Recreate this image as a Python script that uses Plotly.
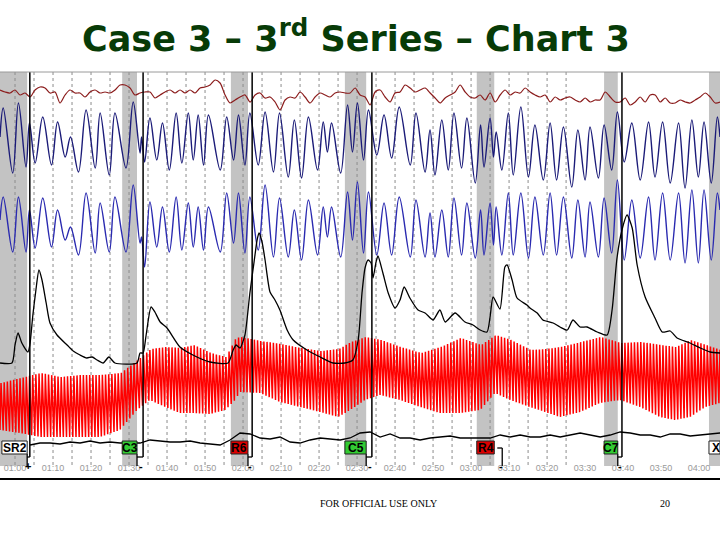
import numpy as np
import plotly.graph_objects as go

# ---------------- data ----------------
t_start, t_end = 56.05, 245.5          # seconds shown

tick_times = list(range(60, 241, 10))
tick_labels = ["01:00", "01:10", "01:20", "01:30", "01:40", "01:50", "02:00",
               "02:10", "02:20", "02:30", "02:40", "02:50", "03:00", "03:10",
               "03:20", "03:30", "03:40", "03:50", "04:00"]
grid_times = list(range(60, 206, 5))

questions = ["SR2", "C3", "R6", "C5", "R4", "C7", "XX"]
q_on = [56.05, 88.2, 116.8, 146.8, 181.5, 215.0, 242.6]
q_off = [63.2, 92.1, 121.3, 152.4, 186.1, 218.6, 245.5]
q_fill = ["#ffffff", "#33cc33", "#dd0000", "#33cc33", "#dd0000", "#33cc33", "#ffffff"]
ans_t = [63.9, 93.7, 122.4, 153.9, 188.2, 219.7]
ans_sign = ["+", "-", "-", "-", "-", "-"]
ans_full = [True, True, True, True, False, True]

# pneumo (top, dark red), regular samples
pneumo_t0, pneumo_dt = 56.05, 1.316
pneumo = [20, 22, 23, 20, 25, 23, 27, 20, 17, 18, 23, 22, 33, 25, 20, 23, 23, 27, 22, 20,
          23, 22, 23, 20, 15, 15, 18, 25, 23, 22, 22, 28, 25, 22, 20, 23, 20, 23, 20, 23,
          18, 17, 15, 10, 13, 25, 33, 30,
          27, 25, 32, 25, 23, 28, 27, 32, 40, 30, 27, 28, 22, 27, 33, 27, 23, 25, 27, 23,
          22, 23, 23, 18, 25, 27, 35, 22, 20, 27, 32, 23, 22, 15, 18, 22, 20, 18, 23, 28,
          33, 28, 25, 22, 15, 22, 27, 28,
          25, 30, 23, 32, 25, 20, 25, 22, 23, 18, 22, 25, 27, 25, 32, 27, 30, 28, 27, 30,
          32, 28, 32, 30, 30, 22, 27, 32, 32, 28, 35, 32, 27, 32, 25, 25, 32, 28, 33, 33,
          30, 32, 33, 30, 27, 23, 27, 33, 32]

# respiration extrema (thoracic + abdominal share timing)
resp_t = [56.05, 56.9, 59.4, 60.9, 62.9, 63.8, 65.3, 67.3, 69.6, 71.2, 73.2, 74.6, 76.7, 78.7,
          81.1, 82.4, 84.8, 86.3, 89.2, 91.1, 92.9, 93.3, 94.1, 95.5, 97.3, 98.8, 100.6, 102.4,
          103.9, 105.6, 106.9, 108.2, 109.6, 110.9, 114.0, 115.7, 117.5, 118.8,
          120.5, 121.8, 124.0, 125.8, 128.0, 129.6, 131.9, 133.5, 135.4, 137.2, 139.6, 141.1,
          142.2, 143.3, 145.7, 147.5, 148.8, 150.1, 151.7, 153.0, 155.2, 157.1, 159.1, 161.1,
          164.0, 165.5, 167.9, 169.2, 170.5, 172.3, 174.0, 175.5, 177.5, 178.9, 181.1,
          182.5, 183.4, 185.0, 185.9, 186.6, 188.1, 189.8, 191.1, 193.1, 195.1, 196.8, 199.0,
          200.8, 202.5, 204.3, 206.5, 208.1, 210.0, 211.3, 213.5, 215.0, 217.0, 218.5, 220.3,
          222.3, 224.5, 226.7, 228.4, 230.4, 232.4, 234.6, 236.3, 238.1, 239.8, 241.3, 243.2,
          244.8, 245.5]
thoracic = [67, 38, 103, 33, 97, 53, 93, 47, 95, 52, 87, 67, 102, 40, 98, 43, 105, 43, 98, 32,
            83, 67, 92, 48, 90, 53, 100, 43, 93, 43, 90, 45, 95, 45, 100, 47, 90, 45,
            95, 43, 95, 42, 102, 43, 107, 50, 108, 47, 100, 52, 82, 53, 103, 35, 82, 33, 90, 40,
            85, 45, 88, 37, 95, 43, 102, 60, 105, 50, 100, 43, 98, 48, 113,
            55, 97, 48, 87, 62, 100, 43, 105, 37, 107, 55, 110, 53, 110, 57, 117, 60, 110, 57,
            108, 55, 100, 42, 92, 53, 110, 52, 107, 52, 113, 53, 118, 50, 107, 52, 113, 47, 67]
abdominal = [150, 127, 182, 127, 182, 140, 178, 128, 177, 140, 170, 157, 185, 123, 183, 133,
             182, 127, 182, 115, 173, 167, 197, 132, 177, 137, 182, 127, 180, 133, 177, 137,
             180, 137, 182, 123, 173, 123,
             183, 127, 180, 115, 187, 128, 187, 140, 190, 130, 185, 137, 167, 137, 187, 122,
             170, 112, 183, 122, 185, 133, 185, 127, 187, 130, 187, 143, 187, 140, 187, 128,
             185, 133, 188,
             140, 185, 133, 175, 137, 185, 123, 185, 123, 188, 127, 185, 123, 185, 127, 188,
             130, 187, 132, 187, 128, 183, 110, 190, 130, 188, 127, 190, 123, 190, 123, 193,
             120, 193, 120, 190, 123, 140]

# electrodermal (black)
eda_t = [56.05, 59.2, 60.0, 60.8, 61.8, 63.4, 63.9, 64.7, 65.5, 66.3, 67.1, 68.2, 69.2, 71.05,
         73.7, 75.3, 77.1, 78.9, 80.3, 81.6, 83.2, 84.7, 86.3, 92.1, 92.9, 93.7, 94.5, 95.8,
         96.8, 98.2, 100.0, 103.4, 106.8, 111.3, 116.05, 117.4, 118.2, 119.2, 120.5, 121.8,
         122.9, 123.7, 124.2, 125.0, 125.8, 127.1, 128.4, 129.7, 131.6, 133.2, 136.8, 140.3,
         143.7, 146.8, 148.9, 150.3, 151.3, 152.1, 152.9, 153.7, 154.2, 155.0, 155.5, 156.8,
         158.2, 160.0, 161.3, 162.4, 163.9, 166.05, 167.9, 170.0, 171.8, 173.2, 175.8, 178.4,
         180.5, 182.4, 184.2, 185.0, 185.8, 187.6, 188.9, 189.5, 190.8, 192.1, 194.7, 195.5,
         197.4, 198.9, 201.6, 203.4, 205.3, 206.8, 208.7, 210.5, 213.2, 215.8, 217.1, 218.4,
         219.7, 221.05, 222.4, 223.7, 225.8, 228.4, 230.3, 232.4, 234.2, 237.6, 240.3, 242.9,
         245.5]
eda = [293, 293, 275, 263, 273, 282, 275, 245, 220, 200, 210, 233, 253, 265, 275, 281, 285,
       288, 287, 290, 293, 287, 293, 293, 283, 283, 265, 237, 242, 252, 258, 277, 285, 292,
       293, 280, 275, 278, 265, 223, 192, 170, 163, 172, 190, 222, 230, 240, 260, 270, 280,
       287, 293, 293, 290, 270, 223, 198, 190, 193, 208, 192, 186, 203, 223, 238, 230, 217,
       228, 240, 243, 250, 240, 252, 243, 252, 255, 260, 262, 247, 227, 239, 197, 195, 210,
       228, 235, 238, 243, 250, 253, 257, 260, 250, 257, 257, 262, 265, 240, 188, 160, 145,
       158, 195, 227, 248, 262, 261, 268, 273, 278, 282, 283]

# cardio (red): upper / lower envelope of the pulse, and pulse rate
cardio_bpm = 72
card_env_t = [56.05, 61.3, 66.6, 71.8, 77.1, 82.4, 87.6, 92.1, 95.5, 99.5, 103.4, 106.8, 111.3,
              115.3, 117.9, 119.2, 124.5, 129.7, 135.0, 140.3, 145.0, 148.2, 152.1, 156.05,
              161.3, 166.6, 171.8, 177.1, 182.4, 186.3, 190.3, 195.5, 199.5, 203.4, 208.7,
              213.9, 219.2, 224.5, 229.7, 233.7, 237.6, 241.6, 245.5]
card_upper = [313, 308, 303, 307, 305, 305, 303, 290, 279, 277, 278, 275, 283, 287, 268, 267,
              271, 274, 278, 281, 279, 272, 267, 270, 277, 283, 277, 268, 275, 265, 270, 280,
              279, 277, 272, 267, 273, 272, 275, 277, 270, 275, 280]
card_lower = [360, 363, 367, 367, 367, 367, 360, 340, 330, 337, 343, 343, 344, 340, 330, 322,
              323, 332, 337, 342, 347, 340, 330, 325, 330, 337, 343, 343, 340, 323, 330, 337,
              342, 347, 342, 333, 330, 337, 347, 350, 347, 337, 333]

# bottom activity sensor (black), regular samples
bottom_t0, bottom_dt = 63.95, 2.632
bottom = [375, 373, 373, 374, 372, 373, 371, 373, 372, 373, 373, 373, 370, 371, 372, 372, 371,
          373, 374, 375, 370,
          363, 364, 368, 369, 367, 372, 373, 370, 368, 369, 370, 368, 363, 362, 367, 364, 368,
          368, 370, 368, 367, 366, 368, 368,
          368, 368, 365, 367, 365, 367, 367, 365, 367, 365, 363, 365, 367, 365, 362, 363, 365,
          365, 367, 364, 364, 366, 365, 364, 363]

# ---------------- build ----------------
U_TOP, U_BOT = 2, 408          # y-axis (reversed) limits
U_BAND = 396                   # bottom of grey bands / grid
U_BOX0, U_BOX1 = 371, 384      # question label boxes
U_BRK, U_SIGN = 387, 396

fig = go.Figure()

pn_t = [pneumo_t0 + i * pneumo_dt for i in range(len(pneumo))]
fig.add_trace(go.Scatter(x=pn_t, y=pneumo, mode="lines",
                         line=dict(color="#8b1c1c", width=1.2, shape="spline", smoothing=0.8)))
fig.add_trace(go.Scatter(x=resp_t, y=thoracic, mode="lines",
                         line=dict(color="#1b1b78", width=1.4, shape="spline", smoothing=1.0)))
fig.add_trace(go.Scatter(x=resp_t, y=abdominal, mode="lines",
                         line=dict(color="#2a2ab0", width=1.4, shape="spline", smoothing=1.0)))

period = 60.0 / cardio_bpm
beats = np.arange(t_start, t_end + period, period)
up = np.interp(beats, card_env_t, card_upper)
lo = np.interp(beats, card_env_t, card_lower)
cx, cy = [], []
for b, u, l in zip(beats, up, lo):
    cx += [b, b + 0.32 * period, b + 0.58 * period]
    cy += [l, u, u + 0.4 * (l - u)]
fig.add_trace(go.Scatter(x=cx, y=cy, mode="lines", line=dict(color="#ff0000", width=1.5)))

fig.add_trace(go.Scatter(x=eda_t, y=eda, mode="lines",
                         line=dict(color="black", width=1.3, shape="spline", smoothing=0.6)))
bt = [bottom_t0 + i * bottom_dt for i in range(len(bottom))]
fig.add_trace(go.Scatter(x=bt, y=bottom, mode="lines", line=dict(color="black", width=1.3)))

shapes = []
for a, b in zip(q_on, q_off):
    shapes.append(dict(type="rect", xref="x", yref="y", x0=a, x1=b, y0=U_TOP, y1=U_BAND,
                       fillcolor="#c3c3c3", line=dict(width=0), layer="below"))
for g in grid_times:
    shapes.append(dict(type="line", xref="x", yref="y", x0=g, x1=g, y0=U_TOP, y1=U_BAND,
                       line=dict(color="#8c8c8c", width=1, dash="dot"), layer="below"))
for i, a in enumerate(ans_t):
    if ans_full[i]:
        shapes.append(dict(type="line", xref="x", yref="y", x0=a, x1=a, y0=U_TOP, y1=U_BRK,
                           line=dict(color="black", width=1.5)))
        shapes.append(dict(type="line", xref="x", yref="y", x0=q_off[i], x1=a, y0=U_BRK, y1=U_BRK,
                           line=dict(color="black", width=1.3)))
        shapes.append(dict(type="line", xref="x", yref="y", x0=q_off[i], x1=q_off[i],
                           y0=U_BOX1, y1=U_SIGN, line=dict(color="black", width=1.3)))
    else:
        shapes.append(dict(type="line", xref="x", yref="y", x0=a, x1=a, y0=U_BOX0 + 7, y1=U_SIGN,
                           line=dict(color="black", width=1.3)))
        shapes.append(dict(type="line", xref="x", yref="y", x0=a - 1.3, x1=a, y0=U_BOX0 + 7,
                           y1=U_BOX0 + 7, line=dict(color="black", width=1.3)))
for q, a, b, c in zip(questions, q_on, q_off, q_fill):
    x0 = a + 0.5 if q == "SR2" else a
    shapes.append(dict(type="rect", xref="x", yref="y", x0=x0, x1=b, y0=U_BOX0, y1=U_BOX1,
                       fillcolor=c, line=dict(color="#222222", width=1)))
# top frame line
shapes.append(dict(type="line", xref="paper", yref="paper", x0=0, x1=1, y0=1, y1=1,
                   line=dict(color="#9a9a9a", width=1)))

ann = []
for q, a, b in zip(questions, q_on, q_off):
    ax = a + 0.5 if q == "SR2" else a
    ann.append(dict(x=(ax + b) / 2 if q != "XX" else ax + 0.2, y=(U_BOX0 + U_BOX1) / 2,
                    xref="x", yref="y", text="<b>%s</b>" % q, showarrow=False,
                    xanchor="center" if q != "XX" else "left", yanchor="middle",
                    font=dict(family="Liberation Sans, Arial", size=12, color="black")))
for a, s in zip(ans_t, ans_sign):
    ann.append(dict(x=a - 0.45, y=U_SIGN, xref="x", yref="y", text="<b>%s</b>" % s,
                    showarrow=False, yanchor="middle",
                    font=dict(family="Liberation Sans, Arial", size=11, color="black")))

ann.append(dict(x=0.494, y=1.088, xref="paper", yref="paper", showarrow=False,
                xanchor="center", yanchor="middle",
                text="<b>Case 3 – 3<sup>rd</sup> Series – Chart 3</b>",
                font=dict(family="DejaVu Sans", size=35, color="#073b07")))
ann.append(dict(x=0.525, y=-0.062, xref="paper", yref="paper", showarrow=False,
                xanchor="center", yanchor="middle", text="FOR OFFICIAL USE ONLY",
                font=dict(family="Liberation Serif, Times New Roman", size=10, color="black")))
ann.append(dict(x=0.924, y=-0.062, xref="paper", yref="paper", showarrow=False, text="20",
                xanchor="center", yanchor="middle",
                font=dict(family="Liberation Serif, Times New Roman", size=10, color="black")))

fig.update_layout(width=720, height=540, margin=dict(l=0, r=0, t=72, b=62),
                  paper_bgcolor="white", plot_bgcolor="white", showlegend=False,
                  shapes=shapes, annotations=ann)
fig.update_xaxes(range=[t_start, t_end], tickvals=tick_times, ticktext=tick_labels,
                 ticklabelposition="inside", ticks="inside", ticklen=4,
                 tickcolor="rgba(0,0,0,0)",
                 tickfont=dict(family="Liberation Sans, Arial", size=9, color="#9a9a9a"),
                 showgrid=False, zeroline=False, showline=True, linecolor="black",
                 linewidth=1.5)
fig.update_yaxes(range=[U_BOT, U_TOP], visible=False)

fig.write_html("out.html", config={"displayModeBar": False},
               post_script="document.body.style.margin='0';document.body.style.padding='0';")
